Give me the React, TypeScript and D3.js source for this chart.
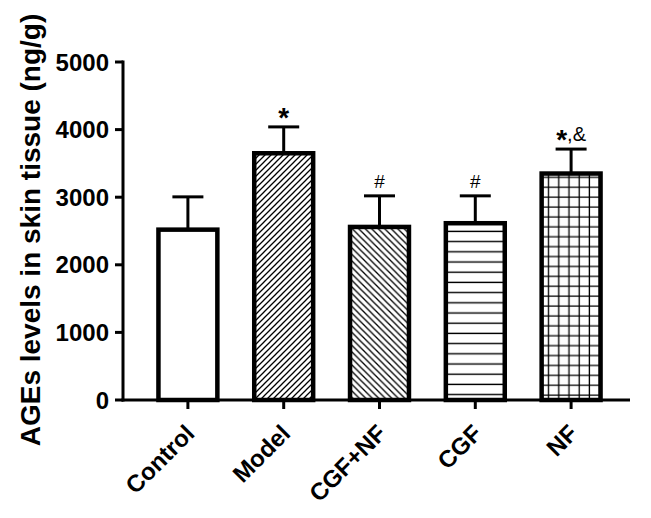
import React from "react";
import * as d3 from "d3";

const categories = ["Control", "Model", "CGF+NF", "CGF", "NF"];
const means = [2520, 3650, 2560, 2615, 3350];
const errorTops = [3005, 4040, 3020, 3020, 3712];
const annotations = ["", "*", "#", "#", "*,&"];
const patterns = ["none", "diagUp", "diagDown", "horiz", "grid"];
const yTicks = [0, 1000, 2000, 3000, 4000, 5000];
const yLabel = "AGEs levels in skin tissue (ng/g)";

const W = 651;
const H = 518;
const FONT = "Arial, 'Liberation Sans', Helvetica, sans-serif";

export default function App() {
  const y = d3.scaleLinear().domain([0, 5000]).range([400, 62]);
  const x = d3.scaleBand<string>().domain(categories).range([140, 619]).padding(0);
  const bw = x.bandwidth() * 0.615;
  const axisX = 123;
  const axisEnd = 630;

  return (
    <svg
      width={W}
      height={H}
      style={{ position: "absolute", left: 0, top: 0, display: "block", background: "#fff" }}
    >
      <defs>
        <pattern id="diagUp" patternUnits="userSpaceOnUse" width={6} height={6}>
          <path d="M-1,1 L1,-1 M0,6 L6,0 M5,7 L7,5" stroke="#000" strokeWidth={1.3} />
        </pattern>
        <pattern id="diagDown" patternUnits="userSpaceOnUse" width={6.5} height={6.5}>
          <path d="M-1,5.5 L1,7.5 M0,0 L6.5,6.5 M5.5,-1 L7.5,1" stroke="#000" strokeWidth={1.3} />
        </pattern>
        <pattern id="horiz" patternUnits="userSpaceOnUse" width={10} height={10.2} y={2}>
          <path d="M0,5 L10,5" stroke="#000" strokeWidth={1.4} />
        </pattern>
        <pattern id="grid" patternUnits="userSpaceOnUse" width={10.2} height={9.9} x={3} y={4}>
          <path d="M0,5 L10.2,5 M5,0 L5,9.9" stroke="#000" strokeWidth={1.3} />
        </pattern>
      </defs>

      {/* bars */}
      {categories.map((c, i) => {
        const cx = (x(c) as number) + x.bandwidth() / 2;
        const top = y(means[i]);
        const etop = y(errorTops[i]);
        return (
          <g key={c}>
            <line x1={cx} x2={cx} y1={top} y2={etop} stroke="#000" strokeWidth={3} />
            <line x1={cx - 15.5} x2={cx + 15.5} y1={etop} y2={etop} stroke="#000" strokeWidth={3} />
            <rect
              x={cx - bw / 2}
              y={top}
              width={bw}
              height={y(0) - top}
              fill={patterns[i] === "none" ? "#fff" : `url(#${patterns[i]})`}
              stroke="#000"
              strokeWidth={4.5}
            />
            {annotations[i] && (
              <text
                x={cx}
                y={etop - 8}
                textAnchor="middle"
                fontFamily={FONT}
                fontSize={annotations[i] === "#" ? 19 : 21}
                fontWeight={annotations[i] === "#" ? "normal" : "bold"}
              >
                {annotations[i] === "*,&" ? (
                  <>
                    <tspan fontWeight="bold" fontSize={28} dy={8}>*</tspan>
                    <tspan fontWeight="normal" fontSize={20} dy={-8}>,&amp;</tspan>
                  </>
                ) : annotations[i] === "*" ? (
                  <tspan fontSize={28} dy={8}>*</tspan>
                ) : (
                  annotations[i]
                )}
              </text>
            )}
          </g>
        );
      })}

      {/* y axis */}
      <line x1={axisX} x2={axisX} y1={y(5000) - 1.5} y2={y(0) + 1.5} stroke="#000" strokeWidth={3} />
      {yTicks.map((t) => (
        <g key={t}>
          <line x1={axisX - 8} x2={axisX} y1={y(t)} y2={y(t)} stroke="#000" strokeWidth={3} />
          <text
            x={axisX - 14}
            y={y(t)}
            dy="0.36em"
            textAnchor="end"
            fontFamily={FONT}
            fontWeight="bold"
            fontSize={24}
          >
            {t}
          </text>
        </g>
      ))}

      {/* x axis */}
      <line x1={axisX - 1.5} x2={axisEnd} y1={y(0)} y2={y(0)} stroke="#000" strokeWidth={3} />
      {categories.map((c) => {
        const cx = (x(c) as number) + x.bandwidth() / 2;
        return (
          <g key={c}>
            <line x1={cx} x2={cx} y1={y(0)} y2={y(0) + 9} stroke="#000" strokeWidth={3} />
            <text
              transform={`translate(${cx + 8},${y(0) + 35}) rotate(-45)`}
              textAnchor="end"
              fontFamily={FONT}
              fontWeight="bold"
              fontSize={24}
            >
              {c}
            </text>
          </g>
        );
      })}

      {/* y label */}
      <text
        transform={`translate(40,${230}) rotate(-90)`}
        textAnchor="middle"
        fontFamily={FONT}
        fontWeight="bold"
        fontSize={28}
      >
        {yLabel}
      </text>
    </svg>
  );
}
